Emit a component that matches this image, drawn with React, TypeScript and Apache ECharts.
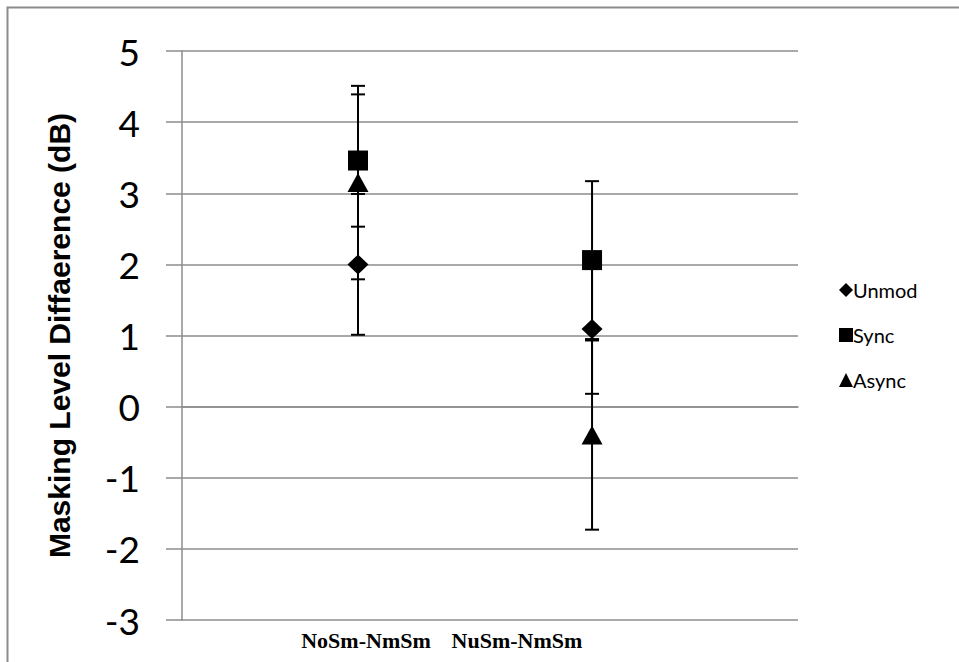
import React, { useEffect, useRef } from "react";
import * as echarts from "echarts";

const categories = ["NoSm-NmSm", "NuSm-NmSm"];
const catX = [1, 2];
const seriesNames = ["Unmod", "Sync", "Async"];
const unmodMean = [2.0, 1.09];
const unmodErr = [0.99, 0.91];
const syncMean = [3.46, 2.06];
const syncErr = [0.93, 1.11];
const asyncMean = [3.15, -0.4];
const asyncErr = [1.36, 1.33];
const yTicks = { min: -3, max: 5, interval: 1 };

const GRAY = "#8c8c8c";

export default function App() {
  const ref = useRef<HTMLDivElement>(null);
  useEffect(() => {
    if (!ref.current) return;
    const chart = echarts.init(ref.current, null, { renderer: "svg" });
    const means = [unmodMean, syncMean, asyncMean];
    const errs = [unmodErr, syncErr, asyncErr];
    const symbols = ["diamond", "rect", "triangle"];
    const sizes: any[] = [[21, 20], [20, 20], [21, 19]];

    const errData: number[][] = [];
    means.forEach((m, si) => {
      m.forEach((v, i) => {
        errData.push([catX[i], v - errs[si][i], v + errs[si][i]]);
      });
    });

    const scatterSeries = means.map((m, si) => ({
      type: "scatter",
      name: seriesNames[si],
      symbol: symbols[si],
      symbolSize: sizes[si],
      itemStyle: { color: "#000", opacity: 1 },
      data: m.map((v, i) => [catX[i], v]),
      z: 5,
    }));

    chart.setOption({
      animation: false,
      backgroundColor: "#fff",
      grid: { left: 182, top: 51, width: 616, height: 569, containLabel: false },
      xAxis: {
        type: "value",
        min: 0.248,
        max: 2.88,
        axisLine: { show: true, lineStyle: { color: GRAY, width: 1.5 } },
        axisTick: { show: false },
        axisLabel: { show: false },
        splitLine: { show: false },
      },
      yAxis: {
        type: "value",
        min: yTicks.min,
        max: yTicks.max,
        interval: yTicks.interval,
        name: "Masking Level Diffaerence (dB)",
        nameLocation: "middle",
        nameGap: 108,
        nameRotate: 90,
        nameTextStyle: {
          fontFamily: "Liberation Sans, Arial, sans-serif",
          fontWeight: "bold",
          fontSize: 30,
          color: "#000",
        },
        axisLine: { show: true, lineStyle: { color: GRAY, width: 1.5 } },
        axisTick: { show: true, inside: false, length: 16, lineStyle: { color: GRAY, width: 1.5 } },
        axisLabel: {
          margin: 42,
          fontFamily: "Lato, sans-serif",
          fontSize: 37,
          color: "#000",
        },
        splitLine: { show: true, lineStyle: { color: GRAY, width: 1.5 } },
      },
      legend: {
        orient: "vertical",
        left: 834,
        top: 275,
        itemWidth: 14,
        itemHeight: 14,
        itemGap: 25,
        data: seriesNames,
        textStyle: { fontFamily: "Lato, sans-serif", fontSize: 20, color: "#000", padding: [0, 0, 0, -5] },
      },
      graphic: [
        {
          type: "rect",
          shape: { x: 7.5, y: 7.5, width: 1000, height: 700 },
          style: { fill: "none", stroke: GRAY, lineWidth: 2 },
          silent: true,
          z: -1,
        },
        ...categories.map((c, i) => ({
          type: "text",
          x: [366, 517][i],
          y: 640,
          style: {
            text: c,
            fontFamily: "Liberation Serif, Times New Roman, serif",
            fontWeight: "bold",
            fontSize: 22,
            fill: "#000",
            align: "center",
            verticalAlign: "middle",
          },
        })),
      ],
      series: [
        {
          type: "custom",
          name: "errbars",
          data: errData,
          z: 4,
          renderItem: (params: any, api: any) => {
            const x = api.value(0);
            const lo = api.coord([x, api.value(1)]);
            const hi = api.coord([x, api.value(2)]);
            const cw = 7;
            const st = { stroke: "#000", lineWidth: 2 };
            return {
              type: "group",
              children: [
                { type: "line", shape: { x1: lo[0], y1: lo[1], x2: hi[0], y2: hi[1] }, style: st },
                { type: "line", shape: { x1: lo[0] - cw, y1: lo[1], x2: lo[0] + cw, y2: lo[1] }, style: st },
                { type: "line", shape: { x1: hi[0] - cw, y1: hi[1], x2: hi[0] + cw, y2: hi[1] }, style: st },
              ],
            };
          },
        },
        ...scatterSeries,
      ],
    });
    return () => chart.dispose();
  }, []);
  return <div ref={ref} style={{ position: "fixed", left: 0, top: 0, width: 959, height: 662 }} />;
}
